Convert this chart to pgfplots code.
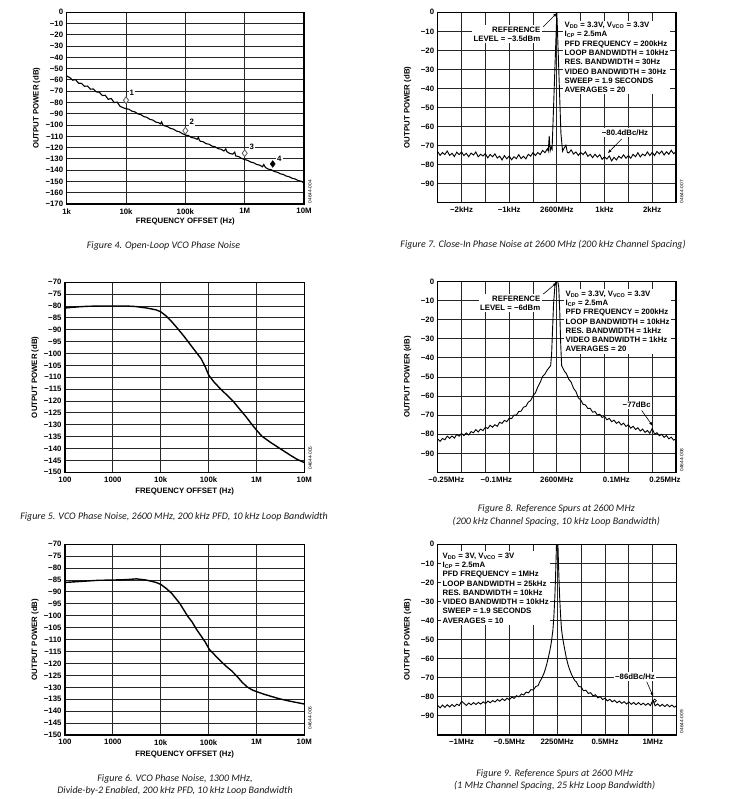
\documentclass[border=0pt]{standalone}
\usepackage{fontspec}
\setmainfont{Liberation Sans}
\newfontfamily\capfont{Carlito}
\usepackage{pgfplots}
\pgfplotsset{compat=1.18}
\usetikzlibrary{arrows.meta}
\newcommand\lab{\fontsize{7.8}{9.3}\selectfont\bfseries}
\newcommand\capt{\capfont\itshape\fontsize{10}{12.5}\selectfont}
\newcommand\code{\fontsize{4.8}{5}\selectfont}
\pgfplotsset{
 adi/.style={scale only axis, anchor=north west,
   axis line style={line width=1.2pt},
   grid style={black!85, line width=1pt},
   major tick length=0pt, minor tick length=0pt,
   tick label style={font=\lab},
   every axis y label/.style={at={(axis description cs:0,0.5)}, xshift=-30pt, rotate=90, anchor=center, font=\lab},
   ylabel={OUTPUT POWER (dB)},
   xticklabel shift=1pt,
 },
 spec/.style={adi, ymin=-100, ymax=0, ytick={0,-10,...,-90},
   yticklabels={0,−10,−20,−30,−40,−50,−60,−70,−80,−90},
   ymajorgrids, xminorgrids},
}
\tikzset{arr/.style={-{Latex[length=4pt,width=3pt]}, line width=0.6pt}}
\begin{document}
\begin{tikzpicture}
\useasboundingbox (0,0) rectangle (743pt,-799pt);
% ---------------- Figure 4 ----------------
\begin{axis}[adi, xmode=log, xmajorgrids, ymajorgrids, at={(66.7pt,-12.3pt)}, width=237.3pt, height=191.7pt,
  xmin=1000, xmax=10000000, ymin=-170, ymax=0,
  xtick={1000,10000,100000,1000000,10000000}, xticklabels={1k,10k,100k,1M,10M},
  ytick={0,-10,...,-170},
  yticklabels={0,−10,−20,−30,−40,−50,−60,−70,−80,−90,−100,−110,−120,−130,−140,−150,−160,−170},
  xlabel={FREQUENCY OFFSET (Hz)},
  x label style={at={(axis description cs:0.5,0)}, yshift=-17.7pt, anchor=center, font=\lab}]
\addplot[black, line width=1.1pt] coordinates {
(1000,-56.5)(1122,-57.8)(1259,-60.2)(1413,-59.8)(1585,-62.9)(1778,-63.0)(1995,-65.6)(2239,-65.4)(2512,-68.2)(2818,-68.0)(3162,-70.6)(3548,-70.9)(3981,-73.8)(4467,-73.6)(5012,-77.2)(5623,-76.4)(6310,-80.1)(7079,-79.6)(7943,-83.4)(8913,-84.6)(10000,-85.5)
(11220,-86.0)(12590,-87.7)(14130,-88.3)(15850,-90.1)(17780,-90.7)(19950,-92.5)(22390,-93.1)(25120,-94.9)(28180,-95.5)(31620,-97.3)(35480,-97.9)(38000,-99.0)(39810,-97.2)(41500,-99.8)(44670,-100.7)(50120,-101.4)(56230,-103.0)(63100,-103.6)(70790,-105.3)(79430,-106.0)(89130,-107.6)(100000,-108.8)
(112200,-109.3)(125900,-111.0)(141300,-111.5)(158500,-112.6)(166000,-110.8)(172000,-113.4)(177800,-114.3)(199500,-114.8)(223900,-116.5)(251200,-117.0)(281800,-118.7)(316200,-119.2)(354800,-120.9)(398100,-121.4)(446700,-123.0)(480000,-121.2)(501200,-123.6)(562300,-125.2)(631000,-125.8)(680000,-124.0)(707900,-127.4)(794300,-128.0)(891300,-129.6)(1000000,-130.6)
(1122000,-131.3)(1259000,-132.8)(1413000,-133.4)(1585000,-134.9)(1778000,-135.5)(1995000,-137.0)(2100000,-135.0)(2239000,-137.6)(2512000,-139.1)(2818000,-139.7)(3162000,-141.2)(3548000,-141.8)(3981000,-143.2)(4467000,-143.8)(5012000,-145.2)(5623000,-145.8)(6310000,-147.2)(7079000,-147.8)(7943000,-149.2)(8913000,-149.8)(10000000,-151.3)};
\addplot[only marks, mark=diamond*, mark size=3.4pt, mark options={fill=white, draw=black!65, line width=0.8pt}] coordinates {(10000,-78)(100000,-105)(1000000,-125)};
\addplot[only marks, mark=diamond*, mark size=3.4pt, black] coordinates {(2970000,-134.5)};
\node[font=\lab, fill=white, inner sep=1pt] at (axis cs:12500,-71.8) {1};
\node[font=\lab, fill=white, inner sep=1pt] at (axis cs:128000,-97.5) {2};
\node[font=\lab, fill=white, inner sep=1pt] at (axis cs:1320000,-119.1) {3};
\node[font=\lab, fill=white, inner sep=1pt] at (axis cs:3850000,-130) {4};
\end{axis}
\node[font=\code, rotate=90] at (310pt,-191.7pt) {04644-004};
\node[font=\capt, text=black!90] at (163.5pt,-245.5pt) {Figure 4. Open-Loop VCO Phase Noise};
% ---------------- Figure 7 ----------------
\begin{axis}[spec, at={(437.7pt,-12.3pt)}, width=238.3pt, height=190.3pt,
  xmin=-2.5, xmax=2.5, xtick={-2,-1,0,1,2},
  xticklabels={−2kHz,−1kHz,2600MHz,1kHz,2kHz},
  minor xtick={-2.5,-2,...,2.5}]
\addplot[black, line width=0.9pt] coordinates {
(-2.50,-73.2)(-2.45,-75.2)(-2.40,-73.7)(-2.35,-74.8)(-2.30,-72.9)(-2.25,-75.2)(-2.20,-74.1)(-2.15,-75.8)(-2.10,-73.5)(-2.05,-74.8)
(-2.00,-73.4)(-1.95,-75.3)(-1.90,-74.1)(-1.85,-75.9)(-1.80,-74.0)(-1.75,-75.0)(-1.70,-73.4)(-1.65,-75.9)(-1.60,-74.6)(-1.55,-75.5)
(-1.50,-74.2)(-1.45,-76.5)(-1.40,-74.7)(-1.35,-75.9)(-1.30,-74.4)(-1.25,-76.6)(-1.20,-75.6)(-1.15,-77.6)(-1.10,-75.3)(-1.05,-77.0)
(-1.00,-75.5)(-0.95,-77.5)(-0.90,-75.9)(-0.85,-76.9)(-0.80,-74.8)(-0.75,-76.9)(-0.70,-75.7)(-0.65,-77.0)(-0.60,-74.6)(-0.55,-75.6)
(-0.50,-73.7)(-0.45,-75.3)(-0.40,-73.7)(-0.35,-74.8)(-0.30,-72.6)(-0.25,-73.8)(-0.20,-71.7)(-0.18,-73.0)(-0.16,-65.0)(-0.14,-72.8)
(-0.12,-71.0)(-0.10,-72.0)(0,0)(0.085,-63.5)(0.12,-73.0)(0.15,-71.5)(0.19,-69.8)(0.22,-73.6)(0.25,-73.9)(0.30,-72.3)
(0.35,-74.5)(0.40,-73.4)(0.45,-75.2)(0.50,-73.6)(0.55,-74.8)(0.60,-73.3)(0.65,-75.7)(0.70,-74.6)(0.75,-76.4)(0.80,-74.6)
(0.85,-76.1)(0.90,-74.8)(0.95,-77.3)(1.00,-75.9)(1.05,-77.1)(1.10,-75.5)(1.15,-78.1)(1.20,-76.2)(1.25,-77.6)(1.30,-75.6)
(1.35,-76.7)(1.40,-74.9)(1.45,-76.7)(1.50,-75.3)(1.55,-76.7)(1.60,-74.6)(1.65,-75.9)(1.70,-73.8)(1.75,-76.0)(1.80,-74.5)
(1.85,-75.4)(1.90,-73.4)(1.95,-75.3)(2.00,-73.6)(2.05,-75.3)(2.10,-73.1)(2.15,-74.4)(2.20,-72.9)(2.25,-75.0)(2.30,-73.3)
(2.35,-74.6)(2.40,-72.5)(2.45,-74.3)(2.50,-73.3)};
\end{axis}
\node[font=\code, rotate=90] at (681.7pt,-191.7pt) {04644-007};
\node[anchor=north west, fill=white, inner sep=1.5pt, align=left, font=\lab] at (563pt,-20.5pt)
 {V\textsubscript{DD} = 3.3V, V\textsubscript{VCO} = 3.3V\\ I\textsubscript{CP} = 2.5mA\\ PFD FREQUENCY = 200kHz\\ LOOP BANDWIDTH = 10kHz\\ RES. BANDWIDTH = 30Hz\\ VIDEO BANDWIDTH = 30Hz\\ SWEEP = 1.9 SECONDS\\ AVERAGES = 20};
\node[anchor=east, fill=white, inner sep=1.5pt, align=right, font=\lab] at (542pt,-34.3pt) {REFERENCE\\LEVEL = −3.5dBm};
\draw[arr] (543pt,-27pt) -- (557pt,-13pt);
\node[fill=white, inner sep=1.5pt, font=\lab] at (625pt,-132.7pt) {−80.4dBc/Hz};
\draw[arr] (621.7pt,-139pt) -- (607.7pt,-153.3pt);
\node[font=\capt, text=black!90] at (543pt,-245pt) {Figure 7. Close-In Phase Noise at 2600 MHz (200 kHz Channel Spacing)};
% ---------------- Figure 5 ----------------
\begin{axis}[adi, xmode=log, xmajorgrids, ymajorgrids, at={(65pt,-282.3pt)}, width=239.3pt, height=190pt,
  xmin=100, xmax=10000000, ymin=-150, ymax=-70,
  xtick={100,1000,10000,100000,1000000,10000000}, xticklabels={100,1000,10k,100k,1M,10M},
  ytick={-70,-75,...,-150},
  yticklabels={−70,−75,−80,−85,−90,−95,−100,−105,−110,−115,−120,−125,−130,−135,−140,−145,−150},
  xlabel={FREQUENCY OFFSET (Hz)},
  x label style={at={(axis description cs:0.5,0)}, yshift=-19.4pt, anchor=center, font=\lab}]
\addplot[black, line width=1.4pt] coordinates {
(100,-80.8)(150,-80.5)(200,-80.3)(300,-80.1)(500,-80.0)(1000,-80.0)(2000,-80.0)(3000,-80.2)(5000,-80.8)(8000,-81.6)(10000,-82.4)(13000,-84.2)(17000,-86.6)(22000,-89.2)(30000,-92.5)(40000,-95.8)(52000,-98.8)(70000,-102.2)(85000,-105.5)(100000,-109.0)(130000,-112.0)(170000,-114.5)(250000,-117.8)(330000,-120.2)(450000,-123.5)(600000,-126.5)(800000,-129.8)(1000000,-132.2)(1300000,-134.8)(2000000,-137.5)(3000000,-139.8)(5000000,-142.7)(7000000,-144.5)(10000000,-145.9)};
\end{axis}
\node[font=\code, rotate=90] at (310.3pt,-458pt) {04644-005};
\node[font=\capt, text=black!90] at (174pt,-517.3pt) {Figure 5. VCO Phase Noise, 2600 MHz, 200 kHz PFD, 10 kHz Loop Bandwidth};
% ---------------- Figure 8 ----------------
\begin{axis}[spec, at={(437.7pt,-281.7pt)}, width=238.3pt, height=190.7pt,
  xmin=-0.25, xmax=0.25, xtick={-0.232,-0.127,0,0.125,0.227},
  xticklabels={−0.25MHz,−0.1MHz,2600MHz,0.1MHz,0.25MHz},
  minor xtick={-0.25,-0.2,...,0.25}]
\addplot[black, line width=0.9pt] coordinates {
(-0.250,-82.4)(-0.245,-83.7)(-0.240,-82.2)(-0.235,-82.9)(-0.230,-81.0)(-0.225,-82.1)(-0.220,-80.9)(-0.215,-82.0)(-0.210,-80.1)(-0.205,-81.0)
(-0.200,-79.6)(-0.195,-80.7)(-0.190,-79.3)(-0.185,-80.4)(-0.180,-78.6)(-0.175,-79.2)(-0.170,-77.6)(-0.165,-78.8)(-0.160,-77.3)(-0.155,-78.1)
(-0.150,-76.3)(-0.145,-77.0)(-0.140,-75.3)(-0.135,-76.3)(-0.130,-75.0)(-0.125,-75.8)(-0.120,-73.7)(-0.115,-74.3)(-0.110,-72.7)(-0.105,-73.4)
(-0.100,-71.6)(-0.095,-71.8)(-0.090,-69.9)(-0.085,-70.0)(-0.080,-68.1)(-0.075,-67.9)(-0.070,-65.8)(-0.065,-65.4)(-0.060,-63.2)(-0.055,-62.3)
(-0.050,-59.8)(-0.045,-58.3)(-0.040,-55.2)(-0.035,-52.8)(-0.030,-49.7)(-0.025,-48.4)(-0.020,-46.2)(-0.016,-45.0)(-0.013,-44.0)(-0.011,-38)
(-0.009,-25)(-0.007,-12)(-0.004,-2)(-0.002,0)(0.002,0)(0.004,-3)(0.006,-15)(0.008,-32)(0.010,-44)(0.013,-45.5)(0.016,-47.0)
(0.020,-48.2)(0.025,-51.1)(0.030,-52.7)(0.035,-55.9)(0.040,-57.6)(0.045,-60.9)(0.050,-62.0)(0.055,-64.3)(0.060,-64.6)(0.065,-66.5)
(0.070,-66.4)(0.075,-68.4)(0.080,-68.1)(0.085,-69.9)(0.090,-69.5)(0.095,-71.2)(0.100,-70.6)(0.105,-72.4)(0.110,-71.7)(0.115,-73.4)
(0.120,-72.6)(0.125,-74.3)(0.130,-73.4)(0.135,-75.1)(0.140,-74.2)(0.145,-75.9)(0.150,-75.0)(0.155,-76.8)(0.160,-75.8)(0.165,-77.5)
(0.170,-76.6)(0.175,-78.3)(0.180,-77.3)(0.185,-79.0)(0.190,-78.0)(0.195,-79.5)(0.200,-77.0)(0.205,-79.9)(0.210,-79.2)(0.215,-80.8)
(0.220,-80.0)(0.225,-81.6)(0.230,-80.7)(0.235,-82.4)(0.240,-81.5)(0.245,-83.1)(0.250,-82.3)};
\end{axis}
\node[font=\code, rotate=90] at (681.7pt,-460pt) {04644-008};
\node[anchor=north west, fill=white, inner sep=1.5pt, align=left, font=\lab] at (564pt,-289pt)
 {V\textsubscript{DD} = 3.3V, V\textsubscript{VCO} = 3.3V\\ I\textsubscript{CP} = 2.5mA\\ PFD FREQUENCY = 200kHz\\ LOOP BANDWIDTH = 10kHz\\ RES. BANDWIDTH = 1kHz\\ VIDEO BANDWIDTH = 1kHz\\ AVERAGES = 20};
\node[anchor=east, fill=white, inner sep=1.5pt, align=right, font=\lab] at (542pt,-303.3pt) {REFERENCE\\LEVEL = −6dBm};
\draw[arr] (543.3pt,-294pt) -- (557pt,-282.5pt);
\node[fill=white, inner sep=1.5pt, font=\lab] at (636.7pt,-405pt) {−77dBc};
\draw[arr] (641.7pt,-410.5pt) -- (652.7pt,-426pt);
\node[font=\capt, text=black!90, align=center] at (556.3pt,-515.5pt) {Figure 8. Reference Spurs at 2600 MHz\\(200 kHz Channel Spacing, 10 kHz Loop Bandwidth)};
% ---------------- Figure 6 ----------------
\begin{axis}[adi, xmode=log, xmajorgrids, ymajorgrids, at={(65pt,-544.3pt)}, width=239.3pt, height=190.7pt,
  xmin=100, xmax=10000000, ymin=-150, ymax=-70,
  xtick={100,1000,10000,100000,1000000,10000000}, xticklabels={100,1000,10k,100k,1M,10M},
  ytick={-70,-75,...,-150},
  yticklabels={−70,−75,−80,−85,−90,−95,−100,−105,−110,−115,−120,−125,−130,−135,−140,−145,−150},
  xlabel={FREQUENCY OFFSET (Hz)},
  x label style={at={(axis description cs:0.5,0)}, yshift=-19pt, anchor=center, font=\lab}]
\addplot[black, line width=1.4pt] coordinates {
(100,-86.0)(200,-85.6)(500,-85.1)(1000,-85.0)(2000,-84.8)(3100,-84.5)(5000,-85.0)(8000,-86.0)(10000,-86.8)(13000,-88.5)(17000,-90.6)(25000,-94.8)(37000,-100.3)(45000,-102.5)(56000,-105.7)(70000,-108.5)(85000,-111.0)(103000,-114.0)(140000,-116.8)(173000,-118.7)(237000,-121.3)(300000,-123.0)(385000,-125.2)(500000,-127.8)(625000,-129.7)(800000,-131.0)(1000000,-131.8)(1500000,-133.0)(3000000,-134.8)(5000000,-135.8)(10000000,-137.0)};
\end{axis}
\node[font=\code, rotate=90] at (310pt,-718pt) {04644-006};
\node[font=\capt, text=black!90, align=center] at (175pt,-784.6pt) {Figure 6. VCO Phase Noise, 1300 MHz,\\Divide-by-2 Enabled, 200 kHz PFD, 10 kHz Loop Bandwidth};
% ---------------- Figure 9 ----------------
\begin{axis}[spec, at={(437.7pt,-544.3pt)}, width=239pt, height=190.7pt,
  xmin=-1.25, xmax=1.25, xtick={-1,-0.5,0,0.5,1},
  xticklabels={−1MHz,−0.5MHz,2250MHz,0.5MHz,1MHz},
  minor xtick={-1.25,-1,...,1.25}]
\addplot[black, line width=0.9pt] coordinates {
(-1.250,-84.5)(-1.225,-85.8)(-1.200,-84.3)(-1.175,-85.5)(-1.150,-84.1)(-1.125,-85.3)(-1.100,-84.0)(-1.075,-85.1)(-1.050,-83.8)(-1.025,-84.6)
(-1.000,-82.3)(-0.975,-83.4)(-0.950,-84.5)(-0.925,-83.2)(-0.900,-84.2)(-0.875,-83.0)(-0.850,-84.0)(-0.825,-82.9)(-0.800,-83.8)(-0.775,-82.6)
(-0.750,-83.5)(-0.725,-82.2)(-0.700,-83.1)(-0.675,-81.9)(-0.650,-82.7)(-0.625,-81.4)(-0.600,-82.3)(-0.575,-81.0)(-0.550,-81.9)(-0.525,-80.7)
(-0.500,-81.5)(-0.475,-80.1)(-0.450,-80.8)(-0.425,-79.4)(-0.400,-80.0)(-0.375,-78.5)(-0.350,-79.0)(-0.325,-77.5)(-0.300,-77.9)(-0.275,-76.2)
(-0.250,-76.4)(-0.225,-74.6)(-0.200,-74.1)(-0.185,-72.3)(-0.170,-71.0)(-0.155,-69.5)(-0.140,-67.8)(-0.125,-65.6)(-0.110,-63.0)(-0.095,-59.8)
(-0.080,-56.5)(-0.065,-52.5)(-0.055,-49.0)(-0.045,-45.0)(-0.035,-38.0)(-0.025,-28.0)(-0.018,-18.0)(-0.012,-8.0)(-0.006,3.0)(0.000,8.0)
(0.006,3.0)(0.012,-8.0)(0.018,-17.0)(0.025,-27.0)(0.035,-37.0)(0.045,-44.5)(0.055,-48.5)(0.067,-52.0)(0.080,-55.5)(0.095,-59.5)
(0.110,-62.5)(0.125,-65.0)(0.140,-67.0)(0.155,-68.8)(0.170,-70.3)(0.185,-71.5)(0.200,-72.1)(0.225,-74.5)(0.250,-74.8)(0.275,-76.8)
(0.300,-76.5)(0.325,-78.2)(0.350,-77.8)(0.375,-79.5)(0.400,-78.9)(0.425,-80.5)(0.450,-79.9)(0.475,-81.4)(0.500,-80.7)(0.525,-82.1)
(0.550,-81.3)(0.575,-82.6)(0.600,-81.8)(0.625,-83.1)(0.650,-82.2)(0.675,-83.4)(0.700,-82.5)(0.725,-83.7)(0.750,-82.7)(0.775,-83.9)
(0.800,-82.9)(0.825,-84.1)(0.850,-83.0)(0.875,-84.2)(0.900,-83.3)(0.925,-84.4)(0.950,-83.4)(0.975,-84.6)(1.000,-81.8)(1.025,-84.7)
(1.050,-83.7)(1.075,-84.9)(1.100,-83.9)(1.125,-85.1)(1.150,-84.0)(1.175,-85.2)(1.200,-84.3)(1.225,-85.4)(1.250,-84.6)};
\addplot[only marks, mark=o, mark size=1.6pt, black, line width=0.7pt] coordinates {(1.02,-82.0)};
\end{axis}
\node[font=\code, rotate=90] at (681.7pt,-721.7pt) {04644-009};
\node[anchor=north west, fill=white, inner sep=1.5pt, align=left, font=\lab] at (441pt,-551pt)
 {V\textsubscript{DD} = 3V, V\textsubscript{VCO} = 3V\\ I\textsubscript{CP} = 2.5mA\\ PFD FREQUENCY = 1MHz\\ LOOP BANDWIDTH = 25kHz\\ RES. BANDWIDTH = 10kHz\\ VIDEO BANDWIDTH = 10kHz\\ SWEEP = 1.9 SECONDS\\ AVERAGES = 10};
\node[fill=white, inner sep=1.5pt, font=\lab] at (635pt,-676.7pt) {−86dBc/Hz};
\draw[arr] (646.7pt,-681.7pt) -- (653.3pt,-696.7pt);
\node[font=\capt, text=black!90, align=center] at (554.7pt,-779.7pt) {Figure 9. Reference Spurs at 2600 MHz\\(1 MHz Channel Spacing, 25 kHz Loop Bandwidth)};
\end{tikzpicture}
\end{document}
